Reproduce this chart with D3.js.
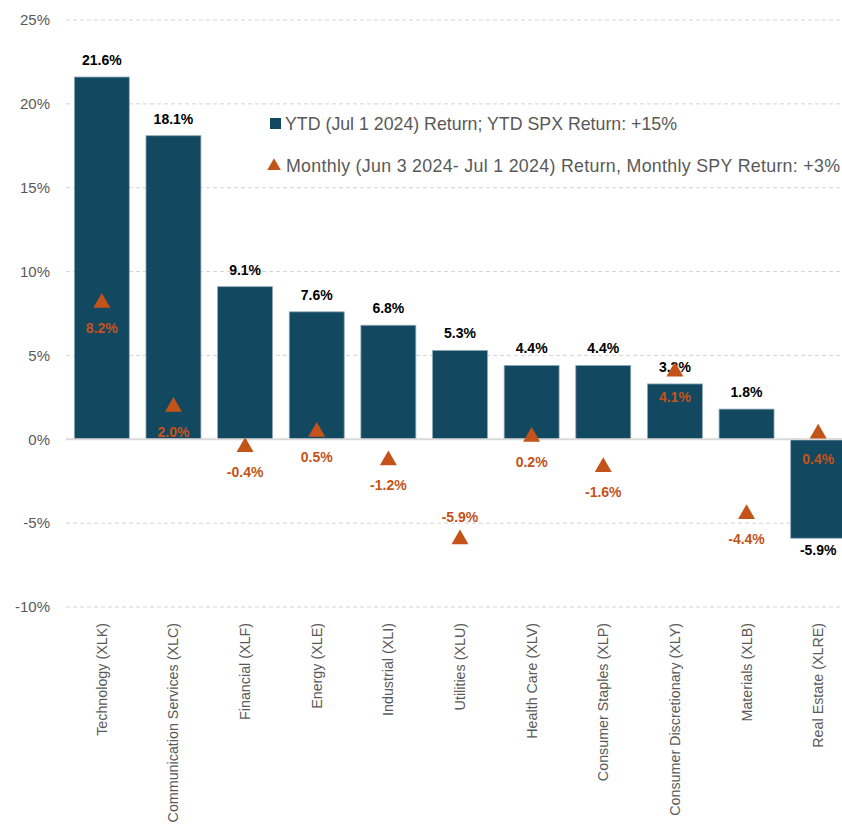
<!DOCTYPE html>
<html><head><meta charset="utf-8">
<script src="https://cdn.jsdelivr.net/npm/d3@7"></script>
<style>body{margin:0;background:#fff}svg{display:block}</style>
</head><body><svg id="c" width="842" height="829"></svg>
<script>
const categories = ["Technology (XLK)","Communication Services (XLC)","Financial (XLF)","Energy (XLE)","Industrial (XLI)","Utilities (XLU)","Health Care (XLV)","Consumer Staples (XLP)","Consumer Discretionary (XLY)","Materials (XLB)","Real Estate (XLRE)"];
const ytdValues = [21.6,18.1,9.1,7.6,6.8,5.3,4.4,4.4,3.3,1.8,-5.9];
const monthlyValues = [8.2,2.0,-0.4,0.5,-1.2,-5.9,0.2,-1.6,4.1,-4.4,0.4];
const yTicks = [-10,-5,0,5,10,15,20,25];
const legendLabels = ["YTD (Jul 1 2024) Return; YTD SPX Return: +15%","Monthly (Jun 3 2024- Jul 1 2024) Return, Monthly SPY Return: +3%"];

const barColor = "#134861", triColor = "#C4531A", axisColor = "#595959";
const font = "'Liberation Sans', Arial, sans-serif";
const svg = d3.select("#c");
const x = d3.scaleBand().domain(categories).range([66, 854]).paddingInner(0.233).paddingOuter(0.1165);
const y = d3.scaleLinear().domain([-10, 25]).range([607, 20]);

// gridlines
svg.append("g").selectAll("line").data(yTicks.filter(d=>d!==0)).join("line")
  .attr("x1", 66).attr("x2", 842).attr("y1", d=>y(d)).attr("y2", d=>y(d))
  .attr("stroke", "#d4d4d4").attr("stroke-width", 1).attr("stroke-dasharray", "4,3");

// y axis
const yAxis = d3.axisLeft(y).tickValues(yTicks).tickFormat(d=>d+"%").tickSize(0).tickPadding(0);
const ya = svg.append("g").attr("transform","translate(50,0)").call(yAxis);
ya.select(".domain").remove();
ya.selectAll("text").attr("font-family", font).attr("font-size", 15).attr("fill", axisColor);

// bars
svg.append("g").selectAll("rect").data(categories).join("rect")
  .attr("x", d=>x(d)).attr("width", x.bandwidth())
  .attr("y", (d,i)=>y(Math.max(0, ytdValues[i])))
  .attr("height", (d,i)=>Math.abs(y(ytdValues[i]) - y(0)))
  .attr("fill", barColor).attr("stroke", "#8fa9b8").attr("stroke-width", 0.8);

// zero line
svg.append("line").attr("x1", 66).attr("x2", 842).attr("y1", y(0)).attr("y2", y(0))
  .attr("stroke", "#d9d9d9").attr("stroke-width", 2);

// bar labels
svg.append("g").selectAll("text").data(categories).join("text")
  .attr("x", d=>x(d)+x.bandwidth()/2)
  .attr("y", (d,i)=> ytdValues[i] >= 0 ? y(ytdValues[i]) - 12 : y(ytdValues[i]) + 17)
  .attr("text-anchor","middle").attr("font-family", font).attr("font-weight","bold")
  .attr("font-size", 14).attr("fill", "#000").text((d,i)=>ytdValues[i].toFixed(1)+"%");

// triangles
const tri = d3.symbol().type(d3.symbolTriangle).size(125);
svg.append("g").selectAll("path").data(categories).join("path")
  .attr("d", tri)
  .attr("transform", (d,i)=>`translate(${x(d)+x.bandwidth()/2},${y(monthlyValues[i])+1})`)
  .attr("fill", triColor);

// monthly labels
svg.append("g").selectAll("text").data(categories).join("text")
  .attr("x", d=>x(d)+x.bandwidth()/2)
  .attr("y", (d,i)=> monthlyValues[i] < -5 ? y(monthlyValues[i]) - 16 : y(monthlyValues[i]) + 31)
  .attr("text-anchor","middle").attr("font-family", font).attr("font-weight","bold")
  .attr("font-size", 14).attr("fill", triColor).text((d,i)=>monthlyValues[i].toFixed(1)+"%");

// x axis labels
const xAxis = d3.axisBottom(x).tickSize(0).tickPadding(0);
const xa = svg.append("g").attr("transform", "translate(0,615)").call(xAxis);
xa.select(".domain").remove();
xa.selectAll("text").attr("transform","rotate(-90)").attr("text-anchor","end")
  .attr("x", -8).attr("y", 0).attr("dy","0.35em")
  .attr("font-family", font).attr("font-size", 14.3).attr("fill", axisColor);

// legend
const lg = svg.append("g");
lg.append("rect").attr("x", 270).attr("y", 118).attr("width", 11).attr("height", 11).attr("fill", barColor);
lg.append("text").attr("x", 285).attr("y", 130).attr("textLength", 392).text(legendLabels[0]);
lg.append("path").attr("d", d3.symbol().type(d3.symbolTriangle).size(80)).attr("transform","translate(274,166)").attr("fill", triColor);
lg.append("text").attr("x", 286).attr("y", 172).attr("textLength", 554).text(legendLabels[1]);
lg.selectAll("text").attr("font-family", font).attr("font-size", 17.8).attr("fill", axisColor);
</script></body></html>
